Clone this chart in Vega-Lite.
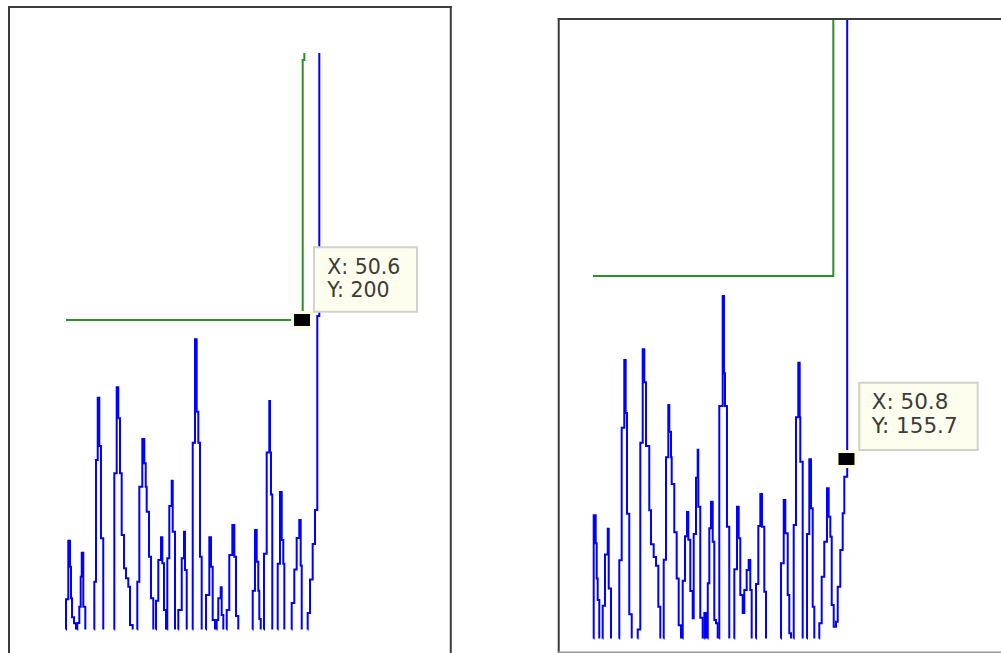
{
  "$schema": "https://vega.github.io/schema/vega-lite/v6.json",
  "padding": 0,
  "background": "white",
  "spacing": 104,
  "config": {"view": {"stroke": null}},
  "datasets": {
    "leftBlue": [
      {"seg": 1, "x": -0.01, "y": 0}, {"seg": 1, "x": 0, "y": 19.5}, {"seg": 1, "x": 0.49, "y": 57.4}, {"seg": 1, "x": 0.86, "y": 40.6}, {"seg": 1, "x": 1.07, "y": 20.2}, {"seg": 1, "x": 1.29, "y": 7.9}, {"seg": 1, "x": 1.72, "y": 4.0}, {"seg": 1, "x": 2.14, "y": 0},
      {"seg": 2, "x": 2.41, "y": 0}, {"seg": 2, "x": 2.42, "y": 4.2}, {"seg": 2, "x": 2.85, "y": 14.7}, {"seg": 2, "x": 3.15, "y": 34.1}, {"seg": 2, "x": 3.37, "y": 49.6}, {"seg": 2, "x": 3.71, "y": 14.7}, {"seg": 2, "x": 4.14, "y": 0},
      {"seg": 3, "x": 6.06, "y": 0}, {"seg": 3, "x": 6.07, "y": 30.9}, {"seg": 3, "x": 6.43, "y": 109.5}, {"seg": 3, "x": 6.8, "y": 149.8}, {"seg": 3, "x": 7.14, "y": 118.6}, {"seg": 3, "x": 7.5, "y": 58.9}, {"seg": 3, "x": 7.99, "y": 0},
      {"seg": 4, "x": 10.35, "y": 0}, {"seg": 4, "x": 10.36, "y": 100.9}, {"seg": 4, "x": 10.87, "y": 156.5}, {"seg": 4, "x": 11.21, "y": 136.5}, {"seg": 4, "x": 11.58, "y": 100.9}, {"seg": 4, "x": 11.94, "y": 61.1}, {"seg": 4, "x": 12.44, "y": 39.5}, {"seg": 4, "x": 12.86, "y": 33.1}, {"seg": 4, "x": 13.36, "y": 27.7}, {"seg": 4, "x": 13.72, "y": 2.9}, {"seg": 4, "x": 14.3, "y": 0},
      {"seg": 5, "x": 15.28, "y": 0}, {"seg": 5, "x": 15.29, "y": 30.9}, {"seg": 5, "x": 15.72, "y": 92.3}, {"seg": 5, "x": 16.36, "y": 123.1}, {"seg": 5, "x": 16.79, "y": 107.4}, {"seg": 5, "x": 17.09, "y": 92.3}, {"seg": 5, "x": 17.3, "y": 76.1}, {"seg": 5, "x": 17.8, "y": 47.0}, {"seg": 5, "x": 18.22, "y": 20.2}, {"seg": 5, "x": 18.72, "y": 0},
      {"seg": 6, "x": 19.29, "y": 0}, {"seg": 6, "x": 19.3, "y": 18.6}, {"seg": 6, "x": 19.79, "y": 44.9}, {"seg": 6, "x": 20.37, "y": 59.6}, {"seg": 6, "x": 20.65, "y": 42.8}, {"seg": 6, "x": 21.01, "y": 12.6}, {"seg": 6, "x": 21.44, "y": 0},
      {"seg": 7, "x": 21.71, "y": 0}, {"seg": 7, "x": 21.72, "y": 46.0}, {"seg": 7, "x": 22.15, "y": 79.8}, {"seg": 7, "x": 22.66, "y": 96.2}, {"seg": 7, "x": 22.88, "y": 63.2}, {"seg": 7, "x": 23.37, "y": 0},
      {"seg": 8, "x": 24.07, "y": 0}, {"seg": 8, "x": 24.08, "y": 12.6}, {"seg": 8, "x": 24.81, "y": 46.0}, {"seg": 8, "x": 25.3, "y": 63.2}, {"seg": 8, "x": 25.51, "y": 38.4}, {"seg": 8, "x": 25.88, "y": 0},
      {"seg": 9, "x": 27.16, "y": 0}, {"seg": 9, "x": 27.17, "y": 120.7}, {"seg": 9, "x": 27.66, "y": 187.5}, {"seg": 9, "x": 28.02, "y": 140.7}, {"seg": 9, "x": 28.37, "y": 120.7}, {"seg": 9, "x": 28.73, "y": 47.0}, {"seg": 9, "x": 29.09, "y": 0},
      {"seg": 10, "x": 30.01, "y": 0}, {"seg": 10, "x": 30.02, "y": 22.3}, {"seg": 10, "x": 30.73, "y": 59.6}, {"seg": 10, "x": 31.09, "y": 40.6}, {"seg": 10, "x": 31.45, "y": 6.1}, {"seg": 10, "x": 31.95, "y": 0},
      {"seg": 11, "x": 32.3, "y": 0}, {"seg": 11, "x": 32.31, "y": 6.1}, {"seg": 11, "x": 32.65, "y": 20.2}, {"seg": 11, "x": 33.17, "y": 27.3}, {"seg": 11, "x": 33.38, "y": 9.4}, {"seg": 11, "x": 33.73, "y": 0},
      {"seg": 12, "x": 34.45, "y": 0}, {"seg": 12, "x": 34.46, "y": 12.6}, {"seg": 12, "x": 35.01, "y": 48.1}, {"seg": 12, "x": 35.66, "y": 67.5}, {"seg": 12, "x": 36.09, "y": 47.0}, {"seg": 12, "x": 36.45, "y": 8.7}, {"seg": 12, "x": 36.94, "y": 0},
      {"seg": 13, "x": 40.02, "y": 0}, {"seg": 13, "x": 40.03, "y": 25.1}, {"seg": 13, "x": 40.52, "y": 64.3}, {"seg": 13, "x": 40.89, "y": 43.8}, {"seg": 13, "x": 41.23, "y": 25.1}, {"seg": 13, "x": 41.45, "y": 6.8}, {"seg": 13, "x": 41.75, "y": 0},
      {"seg": 14, "x": 42.44, "y": 0}, {"seg": 14, "x": 42.45, "y": 48.9}, {"seg": 14, "x": 43.03, "y": 114.3}, {"seg": 14, "x": 43.59, "y": 147.7}, {"seg": 14, "x": 43.74, "y": 114.3}, {"seg": 14, "x": 43.95, "y": 87.3}, {"seg": 14, "x": 44.23, "y": 0},
      {"seg": 15, "x": 45.38, "y": 0}, {"seg": 15, "x": 45.39, "y": 42.5}, {"seg": 15, "x": 45.88, "y": 88.9}, {"seg": 15, "x": 46.25, "y": 57.8}, {"seg": 15, "x": 46.59, "y": 42.5}, {"seg": 15, "x": 46.81, "y": 0},
      {"seg": 16, "x": 48.38, "y": 0}, {"seg": 16, "x": 48.39, "y": 17.1}, {"seg": 16, "x": 48.95, "y": 38.7}, {"seg": 16, "x": 49.46, "y": 59.1}, {"seg": 16, "x": 50.02, "y": 70.8}, {"seg": 16, "x": 50.32, "y": 41.3}, {"seg": 16, "x": 50.54, "y": 0},
      {"seg": 17, "x": 51.81, "y": 0}, {"seg": 17, "x": 51.82, "y": 10.7}, {"seg": 17, "x": 52.32, "y": 32.3}, {"seg": 17, "x": 52.89, "y": 55.3}, {"seg": 17, "x": 53.39, "y": 77.2}, {"seg": 17, "x": 53.88, "y": 202.6}, {"seg": 17, "x": 54.31, "y": 372.5}
    ],
    "leftGreen": [
      {"x": 0, "y": 200}, {"x": 50.75, "y": 368}, {"x": 51.1, "y": 372.5}
    ],
    "leftTip": [
      {"x": 50.6, "y": 200, "line1": "X: 50.6", "line2": "Y: 200"}
    ],
    "rightBlue": [
      {"seg": 1, "x": 0.13, "y": 0}, {"seg": 1, "x": 0.14, "y": 106.9}, {"seg": 1, "x": 0.54, "y": 82.6}, {"seg": 1, "x": 0.74, "y": 52.1}, {"seg": 1, "x": 0.94, "y": 33.5}, {"seg": 1, "x": 1.26, "y": 0},
      {"seg": 2, "x": 1.93, "y": 0}, {"seg": 2, "x": 1.94, "y": 28.5}, {"seg": 2, "x": 2.4, "y": 72.9}, {"seg": 2, "x": 2.95, "y": 95.1}, {"seg": 2, "x": 3.15, "y": 43.3}, {"seg": 2, "x": 3.61, "y": 0},
      {"seg": 3, "x": 5.26, "y": 0}, {"seg": 3, "x": 5.27, "y": 67.8}, {"seg": 3, "x": 5.75, "y": 182.9}, {"seg": 3, "x": 6.27, "y": 241.5}, {"seg": 3, "x": 6.55, "y": 195.6}, {"seg": 3, "x": 6.81, "y": 108.3}, {"seg": 3, "x": 7.27, "y": 21.1}, {"seg": 3, "x": 7.76, "y": 0},
      {"seg": 4, "x": 8.95, "y": 0}, {"seg": 4, "x": 8.96, "y": 7.8}, {"seg": 4, "x": 9.48, "y": 169.8}, {"seg": 4, "x": 9.96, "y": 251.0}, {"seg": 4, "x": 10.28, "y": 222.2}, {"seg": 4, "x": 10.62, "y": 167.0}, {"seg": 4, "x": 11.28, "y": 111.3}, {"seg": 4, "x": 11.62, "y": 81.7}, {"seg": 4, "x": 12.16, "y": 70.8}, {"seg": 4, "x": 12.63, "y": 63.1}, {"seg": 4, "x": 13.09, "y": 27.6}, {"seg": 4, "x": 13.49, "y": 0},
      {"seg": 5, "x": 14.16, "y": 0}, {"seg": 5, "x": 14.17, "y": 68.4}, {"seg": 5, "x": 14.63, "y": 157.2}, {"seg": 5, "x": 15.09, "y": 202.5}, {"seg": 5, "x": 15.29, "y": 179.4}, {"seg": 5, "x": 15.63, "y": 157.2}, {"seg": 5, "x": 15.77, "y": 134.1}, {"seg": 5, "x": 16.29, "y": 92.1}, {"seg": 5, "x": 16.77, "y": 52.1}, {"seg": 5, "x": 17.17, "y": 11.4}, {"seg": 5, "x": 17.64, "y": 0},
      {"seg": 6, "x": 17.97, "y": 0}, {"seg": 6, "x": 17.98, "y": 50.1}, {"seg": 6, "x": 18.44, "y": 88.6}, {"seg": 6, "x": 18.84, "y": 109.8}, {"seg": 6, "x": 19.1, "y": 85.6}, {"seg": 6, "x": 19.5, "y": 41.2}, {"seg": 6, "x": 19.98, "y": 17.5},
      {"seg": 6, "x": 20.18, "y": 90.6}, {"seg": 6, "x": 20.64, "y": 139.4}, {"seg": 6, "x": 20.98, "y": 163.7}, {"seg": 6, "x": 21.1, "y": 114.2}, {"seg": 6, "x": 21.5, "y": 18.1}, {"seg": 6, "x": 21.98, "y": 0},
      {"seg": 7, "x": 22.3, "y": 0}, {"seg": 7, "x": 22.31, "y": 22.1}, {"seg": 7, "x": 22.65, "y": 0},
      {"seg": 8, "x": 22.99, "y": 0}, {"seg": 8, "x": 23.0, "y": 47.9}, {"seg": 8, "x": 23.31, "y": 95.6}, {"seg": 8, "x": 23.65, "y": 118.7}, {"seg": 8, "x": 23.99, "y": 84.0}, {"seg": 8, "x": 24.31, "y": 16.0}, {"seg": 8, "x": 24.65, "y": 13.2}, {"seg": 8, "x": 24.99, "y": 0},
      {"seg": 9, "x": 25.3, "y": 0}, {"seg": 9, "x": 25.31, "y": 201.7}, {"seg": 9, "x": 25.99, "y": 297.1}, {"seg": 9, "x": 26.25, "y": 230.0}, {"seg": 9, "x": 26.45, "y": 201.7}, {"seg": 9, "x": 26.85, "y": 97.0}, {"seg": 9, "x": 27.31, "y": 0},
      {"seg": 10, "x": 28.31, "y": 0}, {"seg": 10, "x": 28.32, "y": 60.0}, {"seg": 10, "x": 28.86, "y": 114.3}, {"seg": 10, "x": 29.2, "y": 86.9}, {"seg": 10, "x": 29.52, "y": 37.7}, {"seg": 10, "x": 30.0, "y": 22.1}, {"seg": 10, "x": 30.32, "y": 42.1}, {"seg": 10, "x": 30.8, "y": 59.4}, {"seg": 10, "x": 31.2, "y": 68.1}, {"seg": 10, "x": 31.52, "y": 42.1}, {"seg": 10, "x": 31.8, "y": 0},
      {"seg": 11, "x": 32.66, "y": 0}, {"seg": 11, "x": 32.67, "y": 47.3}, {"seg": 11, "x": 33.13, "y": 97.6}, {"seg": 11, "x": 33.53, "y": 125.3}, {"seg": 11, "x": 33.87, "y": 97.0}, {"seg": 11, "x": 34.33, "y": 40.6}, {"seg": 11, "x": 34.67, "y": 0},
      {"seg": 12, "x": 37.67, "y": 0}, {"seg": 12, "x": 37.68, "y": 65.2}, {"seg": 12, "x": 38.22, "y": 120.1}, {"seg": 12, "x": 38.54, "y": 91.3}, {"seg": 12, "x": 39.02, "y": 37.7}, {"seg": 12, "x": 39.34, "y": 4.5}, {"seg": 12, "x": 39.68, "y": 0},
      {"seg": 13, "x": 40.21, "y": 0}, {"seg": 13, "x": 40.22, "y": 98.5}, {"seg": 13, "x": 40.68, "y": 191.9}, {"seg": 13, "x": 41.14, "y": 239.2}, {"seg": 13, "x": 41.42, "y": 191.9}, {"seg": 13, "x": 41.54, "y": 153.4}, {"seg": 13, "x": 42.02, "y": 0},
      {"seg": 14, "x": 42.88, "y": 0}, {"seg": 14, "x": 42.89, "y": 90.6}, {"seg": 14, "x": 43.35, "y": 155.4}, {"seg": 14, "x": 43.69, "y": 112.9}, {"seg": 14, "x": 44.03, "y": 27.6}, {"seg": 14, "x": 44.35, "y": 0},
      {"seg": 15, "x": 45.34, "y": 0}, {"seg": 15, "x": 45.35, "y": 13.2}, {"seg": 15, "x": 45.83, "y": 53.6}, {"seg": 15, "x": 46.35, "y": 84.0}, {"seg": 15, "x": 46.89, "y": 130.3}, {"seg": 15, "x": 47.23, "y": 105.7}, {"seg": 15, "x": 47.56, "y": 88.3}, {"seg": 15, "x": 47.84, "y": 29.1}, {"seg": 15, "x": 48.24, "y": 10.2},
      {"seg": 15, "x": 48.7, "y": 14.6}, {"seg": 15, "x": 49.04, "y": 44.9}, {"seg": 15, "x": 49.56, "y": 76.8}, {"seg": 15, "x": 50.04, "y": 108.6}, {"seg": 15, "x": 50.36, "y": 140.4}, {"seg": 15, "x": 50.94, "y": 538.3}
    ],
    "rightGreen": [
      {"x": 0, "y": 314.5}, {"x": 48.16, "y": 538.3}
    ],
    "rightTip": [
      {"x": 50.8, "y": 155.7, "line1": "X: 50.8", "line2": "Y: 155.7"}
    ]
  },
  "hconcat": [
    {
      "width": 452,
      "height": 653,
      "layer": [
        {
          "data": {"name": "leftBlue"},
          "mark": {"type": "line", "interpolate": "step-after", "color": "#0000ff", "strokeWidth": 2},
          "encoding": {
            "x": {"field": "x", "type": "quantitative", "scale": {"domain": [-14.151, 82.762], "nice": false, "zero": false}, "axis": null},
            "y": {"field": "y", "type": "quantitative", "scale": {"domain": [-15.186, 406.785], "nice": false, "zero": false}, "axis": null},
            "detail": {"field": "seg"}
          }
        },
        {
          "data": {"name": "leftGreen"},
          "mark": {"type": "line", "interpolate": "step-after", "color": "#2b8f2b", "strokeWidth": 2},
          "encoding": {
            "x": {"field": "x", "type": "quantitative"},
            "y": {"field": "y", "type": "quantitative"}
          }
        },
        {
          "data": {"name": "leftTip"},
          "mark": {"type": "point", "shape": "M-1,-0.79H1V0.79H-1Z", "size": 361, "filled": true, "fill": "#000000", "stroke": "#ffffe0", "strokeWidth": 3, "opacity": 1},
          "encoding": {
            "x": {"field": "x", "type": "quantitative"},
            "y": {"field": "y", "type": "quantitative"}
          }
        },
        {
          "data": {"name": "leftTip"},
          "mark": {"type": "rect", "fill": "#fefeee", "stroke": "#d2d2ca", "strokeWidth": 2, "xOffset": 12, "x2Offset": 115, "yOffset": -72.7, "y2Offset": -8.3},
          "encoding": {
            "x": {"field": "x", "type": "quantitative"},
            "x2": {"field": "x"},
            "y": {"field": "y", "type": "quantitative"},
            "y2": {"field": "y"}
          }
        },
        {
          "data": {"name": "leftTip"},
          "mark": {"type": "text", "align": "left", "baseline": "alphabetic", "dx": 25.3, "dy": -46, "font": "DejaVu Sans", "fontSize": 20.5, "color": "#3b3b3b"},
          "encoding": {
            "x": {"field": "x", "type": "quantitative"},
            "y": {"field": "y", "type": "quantitative"},
            "text": {"field": "line1"}
          }
        },
        {
          "data": {"name": "leftTip"},
          "mark": {"type": "text", "align": "left", "baseline": "alphabetic", "dx": 25.3, "dy": -23.3, "font": "DejaVu Sans", "fontSize": 20.5, "color": "#3b3b3b"},
          "encoding": {
            "x": {"field": "x", "type": "quantitative"},
            "y": {"field": "y", "type": "quantitative"},
            "text": {"field": "line2"}
          }
        },
        {
          "data": {"name": "leftTip"},
          "mark": {"type": "rule", "color": "#3c3c3c", "strokeWidth": 2, "strokeCap": "square"},
          "encoding": {
            "x": {"datum": -12.22, "type": "quantitative"},
            "y": {"datum": -15.186, "type": "quantitative"},
            "y2": {"datum": 402.3}
          }
        },
        {
          "data": {"name": "leftTip"},
          "mark": {"type": "rule", "color": "#3c3c3c", "strokeWidth": 2, "strokeCap": "square"},
          "encoding": {
            "x": {"datum": 82.5, "type": "quantitative"},
            "y": {"datum": -15.186, "type": "quantitative"},
            "y2": {"datum": 402.3}
          }
        },
        {
          "data": {"name": "leftTip"},
          "mark": {"type": "rule", "color": "#3c3c3c", "strokeWidth": 2, "strokeCap": "square"},
          "encoding": {
            "y": {"datum": 402.3, "type": "quantitative"},
            "x": {"datum": -12.22, "type": "quantitative"},
            "x2": {"datum": 82.5}
          }
        }
      ]
    },
    {
      "width": 445,
      "height": 653,
      "layer": [
        {
          "data": {"name": "rightBlue"},
          "mark": {"type": "line", "interpolate": "step-after", "color": "#0000ff", "strokeWidth": 2},
          "encoding": {
            "x": {"field": "x", "type": "quantitative", "scale": {"domain": [-7.214, 81.964], "nice": false, "zero": false}, "axis": null},
            "y": {"field": "y", "type": "quantitative", "scale": {"domain": [-12.578, 553.87], "nice": false, "zero": false}, "axis": null},
            "detail": {"field": "seg"}
          }
        },
        {
          "data": {"name": "rightGreen"},
          "mark": {"type": "line", "interpolate": "step-after", "color": "#2b8f2b", "strokeWidth": 2},
          "encoding": {
            "x": {"field": "x", "type": "quantitative"},
            "y": {"field": "y", "type": "quantitative"}
          }
        },
        {
          "data": {"name": "rightTip"},
          "mark": {"type": "point", "shape": "M-1,-0.79H1V0.79H-1Z", "size": 361, "filled": true, "fill": "#000000", "stroke": "#ffffe0", "strokeWidth": 3, "opacity": 1},
          "encoding": {
            "x": {"field": "x", "type": "quantitative"},
            "y": {"field": "y", "type": "quantitative"}
          }
        },
        {
          "data": {"name": "rightTip"},
          "mark": {"type": "rect", "fill": "#fefeee", "stroke": "#d2d2ca", "strokeWidth": 2, "xOffset": 12.8, "x2Offset": 131.2, "yOffset": -76.3, "y2Offset": -9},
          "encoding": {
            "x": {"field": "x", "type": "quantitative"},
            "x2": {"field": "x"},
            "y": {"field": "y", "type": "quantitative"},
            "y2": {"field": "y"}
          }
        },
        {
          "data": {"name": "rightTip"},
          "mark": {"type": "text", "align": "left", "baseline": "alphabetic", "dx": 25.2, "dy": -49.7, "font": "DejaVu Sans", "fontSize": 21.5, "color": "#3b3b3b"},
          "encoding": {
            "x": {"field": "x", "type": "quantitative"},
            "y": {"field": "y", "type": "quantitative"},
            "text": {"field": "line1"}
          }
        },
        {
          "data": {"name": "rightTip"},
          "mark": {"type": "text", "align": "left", "baseline": "alphabetic", "dx": 25.2, "dy": -25.7, "font": "DejaVu Sans", "fontSize": 21.5, "color": "#3b3b3b"},
          "encoding": {
            "x": {"field": "x", "type": "quantitative"},
            "y": {"field": "y", "type": "quantitative"},
            "text": {"field": "line2"}
          }
        },
        {
          "data": {"name": "rightTip"},
          "mark": {"type": "rule", "color": "#3c3c3c", "strokeWidth": 2, "strokeCap": "square"},
          "encoding": {
            "x": {"datum": -6.87, "type": "quantitative"},
            "y": {"datum": -12.14, "type": "quantitative"},
            "y2": {"datum": 537.4}
          }
        },
        {
          "data": {"name": "rightTip"},
          "mark": {"type": "rule", "color": "#3c3c3c", "strokeWidth": 2, "strokeCap": "square"},
          "encoding": {
            "y": {"datum": 537.4, "type": "quantitative"},
            "x": {"datum": -6.87, "type": "quantitative"},
            "x2": {"datum": 81.964}
          }
        },
        {
          "data": {"name": "rightTip"},
          "mark": {"type": "rule", "color": "#9a9a9a", "strokeWidth": 2, "strokeCap": "square"},
          "encoding": {
            "y": {"datum": -12.14, "type": "quantitative"},
            "x": {"datum": -6.87, "type": "quantitative"},
            "x2": {"datum": 81.964}
          }
        }
      ]
    }
  ]
}
